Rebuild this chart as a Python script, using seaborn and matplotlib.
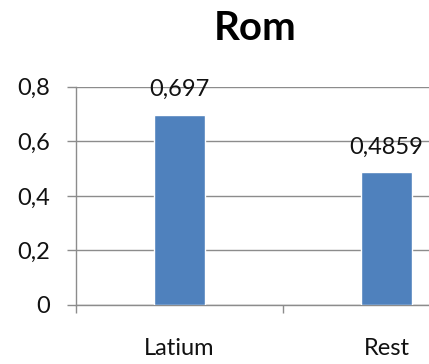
import matplotlib
matplotlib.use("Agg")
import matplotlib.pyplot as plt
from matplotlib.ticker import FixedLocator, FuncFormatter
import seaborn as sns
import pandas as pd

# Data
title = "Rom"
regions = ["Latium", "Rest"]
values = [0.697, 0.4859]
y_ticks = [0, 0.2, 0.4, 0.6, 0.8]

sns.set_theme(style="white")
plt.rcParams["font.family"] = ["Lato", "DejaVu Sans"]

df = pd.DataFrame({"region": regions, "value": values})

fig = plt.figure(figsize=(4.29, 3.64), dpi=100)
ax = fig.add_axes([0.1772, 0.1621, 0.965, 0.5997])

sns.barplot(data=df, x="region", y="value", color="#4F81BD", width=0.25,
            saturation=1, ax=ax, zorder=3)

grid_col = "#8C8C8C"
ax.set_xlim(-0.5, 1.5)
ax.set_ylim(0, 0.8)
ax.set_yticks(y_ticks)
ax.yaxis.set_major_formatter(FuncFormatter(lambda v, p: "0" if v == 0 else f"{v:.1f}".replace(".", ",")))
ax.yaxis.grid(True, color=grid_col, linewidth=1, zorder=0)
ax.set_axisbelow(True)

ax.set_xlabel("")
ax.set_ylabel("")

for s in ["top", "right"]:
    ax.spines[s].set_visible(False)
for s in ["left", "bottom"]:
    ax.spines[s].set_color(grid_col)
    ax.spines[s].set_linewidth(1)

ax.tick_params(axis="y", which="major", length=6.5, width=1, color=grid_col,
               pad=12, labelsize=17, labelcolor="#111111", left=True)
ax.xaxis.set_minor_locator(FixedLocator([-0.5, 0.5, 1.5]))
ax.tick_params(axis="x", which="minor", length=6, width=1, color=grid_col, bottom=True)
ax.tick_params(axis="x", which="major", length=0, pad=24, labelsize=17, labelcolor="#111111")

for i, v in enumerate(values):
    ax.annotate(str(v).replace(".", ","), xy=(i, v), xytext=(0, 13.5),
                textcoords="offset points", ha="center", va="baseline",
                fontsize=17, color="#111111", zorder=4)

fig.text(255 / 429, 1 - 40 / 364, title, ha="center", va="baseline",
         fontsize=29, fontweight="bold", color="black")

fig.savefig("out.png", dpi=100)
